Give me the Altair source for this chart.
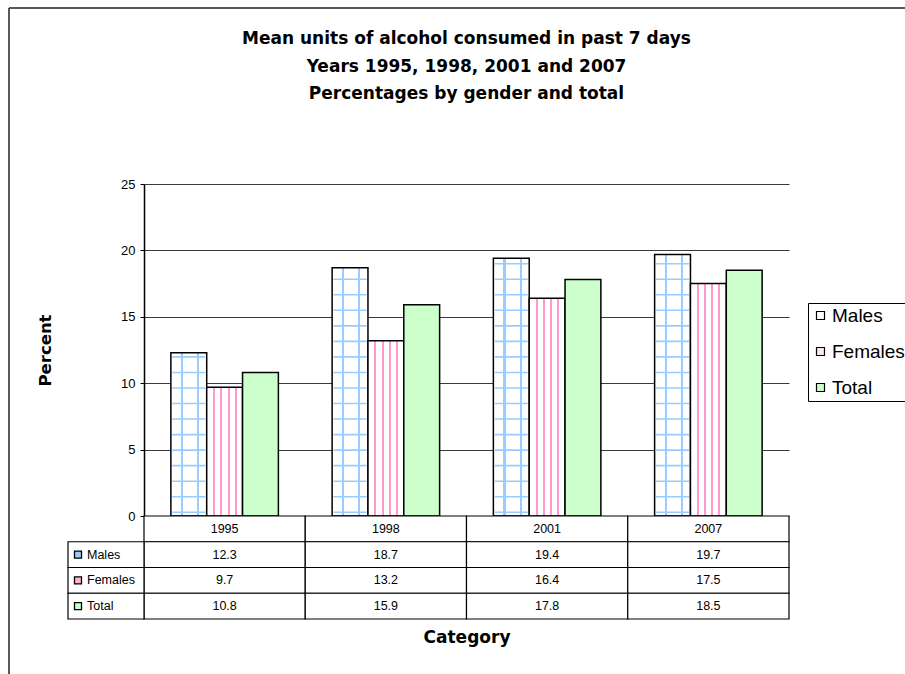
import altair as alt
import pandas as pd

# ---- data -------------------------------------------------------------
years = ["1995", "1998", "2001", "2007"]
series_names = ["Males", "Females", "Total"]
males = [12.3, 18.7, 19.4, 19.7]
females = [9.7, 13.2, 16.4, 17.5]
total = [10.8, 15.9, 17.8, 18.5]
y_ticks = [0, 5, 10, 15, 20, 25]

title_lines = [
    "Mean units of alcohol consumed in past 7 days",
    "Years 1995, 1998, 2001 and 2007",
    "Percentages by gender and total",
]

series_values = {"Males": males, "Females": females, "Total": total}

bars_df = pd.DataFrame(
    [{"year": y, "series": s, "value": v}
     for s in series_names for y, v in zip(years, series_values[s])]
)

# horizontal rows of the grid hatch inside the male bars
HATCH_START, HATCH_STEP = 0.28, 1.17
hatch = []
for y, v in zip(years, males):
    h = HATCH_START
    while h < v - 0.3:
        hatch.append({"year": y, "series": "Males", "value": h})
        h += HATCH_STEP
hatch_df = pd.DataFrame(hatch)

# data table under the plot
table_rows = ["header"] + series_names
table = []
for i, y in enumerate(years):
    table.append({"year": y, "row": "header", "label": y})
    for s in series_names:
        table.append({"year": y, "row": s, "label": f"{series_values[s][i]:.1f}"})
table_df = pd.DataFrame(table)
row_label_df = pd.DataFrame({"row": series_names})

# ---- styling helpers --------------------------------------------------
W, H = 645, 332
TABLE_H = 103
ARIAL = "Liberation Sans"
WIDE = "DejaVu Sans"


def stripes(color, centers, half):
    stops = []
    for c in centers:
        stops += [
            alt.GradientStop(offset=c - half, color="white"),
            alt.GradientStop(offset=c - half, color=color),
            alt.GradientStop(offset=c + half, color=color),
            alt.GradientStop(offset=c + half, color="white"),
        ]
    return alt.LinearGradient(gradient="linear", stops=stops, x1=0, x2=1, y1=0, y2=0)


x_scale = alt.Scale(domain=years, paddingInner=0, paddingOuter=0)
off_scale = alt.Scale(domain=series_names, paddingInner=0, paddingOuter=0.75)
y_scale = alt.Scale(domain=[0, 25], nice=False)
row_scale = alt.Scale(domain=table_rows, range=[H, H + TABLE_H], paddingInner=0, paddingOuter=0)

x_axis = alt.Axis(
    title="Category", labels=False, ticks=False, domain=False, grid=False,
    titleFont=WIDE, titleFontSize=17, titleFontWeight="bold", titleColor="black",
    titlePadding=113,
)
y_axis = alt.Axis(
    values=y_ticks, title="Percent",
    titleFont=WIDE, titleFontSize=16.5, titleFontWeight="bold", titleColor="black",
    titleAngle=270, titleX=-99, titleY=H / 2, titleBaseline="middle",
    labelFont=ARIAL, labelFontSize=13, labelColor="black", labelPadding=5,
    tickSize=4, tickColor="black", tickWidth=1,
    domainColor="black", domainWidth=1.5,
    grid=True, gridColor="#3a3a3a", gridWidth=1,
)

X = alt.X("year:N", scale=x_scale, axis=x_axis)
XO = alt.XOffset("series:N", scale=off_scale)
Y = alt.Y("value:Q", scale=y_scale, axis=y_axis)
YROW = alt.Y("row:N", scale=row_scale, axis=None)

# ---- bars -------------------------------------------------------------
bars = alt.Chart(bars_df)

male_bars = bars.transform_filter(alt.datum.series == "Males").mark_bar(
    fill=stripes("#99CCFF", [0.31, 0.76], 0.03), stroke="black", strokeWidth=1.5
).encode(x=X, xOffset=XO, y=Y)

male_hatch = alt.Chart(hatch_df).mark_tick(
    color="#99CCFF", thickness=1.6, size=33, opacity=1
).encode(x=X, xOffset=XO, y=Y)

female_bars = bars.transform_filter(alt.datum.series == "Females").mark_bar(
    fill=stripes("#FF99CC", [0.21, 0.41, 0.61, 0.81], 0.028), stroke="black", strokeWidth=1.5
).encode(x=X, xOffset=XO, y=Y)

total_bars = bars.transform_filter(alt.datum.series == "Total").mark_bar(
    fill="#CCFFCC", stroke="black", strokeWidth=1.5
).encode(x=X, xOffset=XO, y=Y)

legend_marks = bars.mark_square(opacity=0).encode(
    x=X, xOffset=XO, y=Y,
    fill=alt.Fill(
        "series:N",
        scale=alt.Scale(domain=series_names, range=["#FFFFFF", "#FCE4F0", "#CCFFCC"]),
        legend=alt.Legend(
            title=None, orient="none", legendX=664, legendY=119,
            strokeColor="black", fillColor="white", padding=3,
            symbolType="square", symbolSize=64, symbolOpacity=1,
            symbolStrokeColor="black", symbolStrokeWidth=1.2,
            labelFont=ARIAL, labelFontSize=19, labelColor="black",
            labelOffset=2, rowPadding=16,
        ),
    ),
)

plot = alt.layer(male_bars, male_hatch, female_bars, total_bars, legend_marks)

# ---- data table -------------------------------------------------------
cells = alt.Chart(table_df).mark_rect(fill="white", stroke="black", strokeWidth=1.2).encode(
    x=X, y=YROW
)
cell_text = alt.Chart(table_df).mark_text(font=ARIAL, fontSize=12.5, color="black").encode(
    x=X, y=YROW, text="label:N"
)
label_cells = alt.Chart(row_label_df).mark_rect(fill="white", stroke="black", strokeWidth=1.2).encode(
    x=alt.value(-76), x2=alt.value(0), y=YROW
)
label_text = alt.Chart(row_label_df).mark_text(
    font=ARIAL, fontSize=12.5, color="black", align="left"
).encode(x=alt.value(-57), y=YROW, text="row:N")
label_keys = alt.Chart(row_label_df).mark_square(
    size=49, filled=True, stroke="black", strokeWidth=1.3, opacity=1
).encode(
    x=alt.value(-66),
    y=YROW,
    fill=alt.Fill(
        "row:N",
        scale=alt.Scale(domain=series_names, range=["#99CCFF", "#FFB3D9", "#CCFFCC"]),
        legend=None,
    ),
)

table_layer = alt.layer(cells, cell_text, label_cells, label_text, label_keys)

# ---- outer frame of the chart area -----------------------------------
one = pd.DataFrame({"k": [0]})
frame_top = alt.Chart(one).mark_rule(color="#222", strokeWidth=1.5).encode(
    x=alt.value(-135), x2=alt.value(W + 116), y=alt.value(-176)
)
frame_left = alt.Chart(one).mark_rule(color="#222", strokeWidth=1.5).encode(
    x=alt.value(-135), y=alt.value(-176), y2=alt.value(H + 158)
)

chart = (
    alt.layer(plot, table_layer, frame_top, frame_left)
    .resolve_scale(y="independent", fill="independent")
    .properties(
        width=W,
        height=H,
        padding={"left": 144, "top": 184, "right": 116, "bottom": 158},
        autosize=alt.AutoSizeParams(type="none"),
        background="white",
        title=alt.TitleParams(
            text=title_lines, font=WIDE, fontSize=17, fontWeight="bold", color="black",
            anchor="middle", frame="group", lineHeight=27.4, offset=-96,
        ),
    )
    .configure_view(stroke=None)
)

chart.save("out.html", embed_options={"renderer": "svg", "actions": False})
